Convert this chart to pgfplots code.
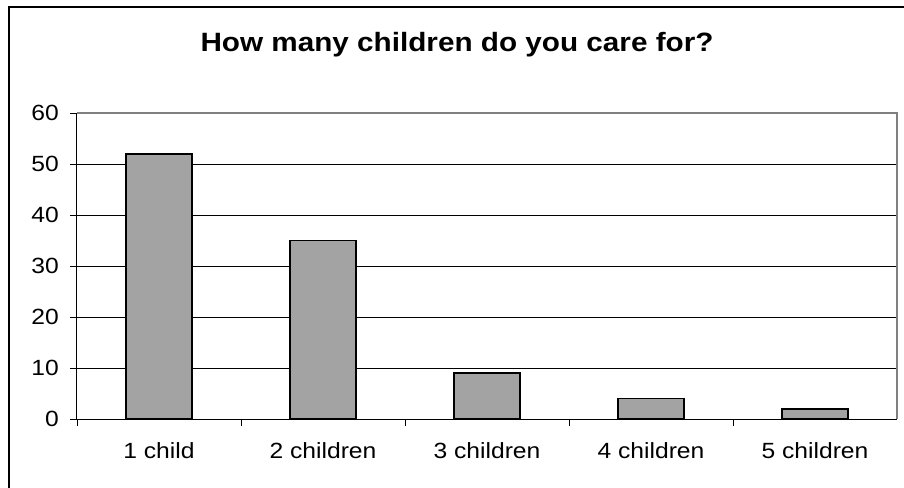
\documentclass[border=0pt]{standalone}
\usepackage{pgfplots}
\pgfplotsset{compat=1.18}
\usepackage{fontspec}
\setmainfont{Liberation Sans}[FakeStretch=1.12]
\definecolor{barfill}{RGB}{163,163,163}
\definecolor{boxgray}{RGB}{128,128,128}

\begin{document}
\begin{tikzpicture}[x=1pt,y=1pt]
\begin{axis}[
  at={(0,0)}, anchor=south west,
  scale only axis, width=820pt, height=306pt,
  ybar, bar width=66pt,
  xmin=0.5, xmax=5.5, ymin=0, ymax=60,
  ytick={0,10,...,60},
  ymajorgrids, major grid style={black, line width=0.6pt},
  xtick={0.5,1.5,2.5,3.5,4.5}, xticklabels={},
  extra x ticks={1,2,3,4,5},
  extra x tick labels={1 child, 2 children, 3 children, 4 children, 5 children},
  extra x tick style={major tick length=0pt,
    xticklabel style={anchor=base, yshift=-39pt}},
  axis x line*=bottom, axis y line*=left,
  axis line style={-, black, line width=1pt},
  tick align=outside, major tick length=7pt,
  tick style={black, line width=0.8pt},
  /pgf/number format/assume math mode=true,
  tick label style={font=\fontsize{22}{26}\selectfont},
  yticklabel style={anchor=east, inner sep=0pt, xshift=-11pt},
]
\addplot[fill=barfill, draw=black, line width=1.5pt]
  coordinates {(1,52) (2,35) (3,9) (4,4) (5,2)};
\end{axis}
\draw[boxgray, line width=1.2pt] (0,306) -- (820,306) -- (820,0);
\node[anchor=base, font=\bfseries\fontsize{26.5}{30}\selectfont]
  at (380,367) {How many children do you care for?};
\draw[line width=2pt] (-68,-100) rectangle (828,412);
\pgfresetboundingbox
\path[use as bounding box] (-77,-68) rectangle (827,419);
\end{tikzpicture}
\end{document}
